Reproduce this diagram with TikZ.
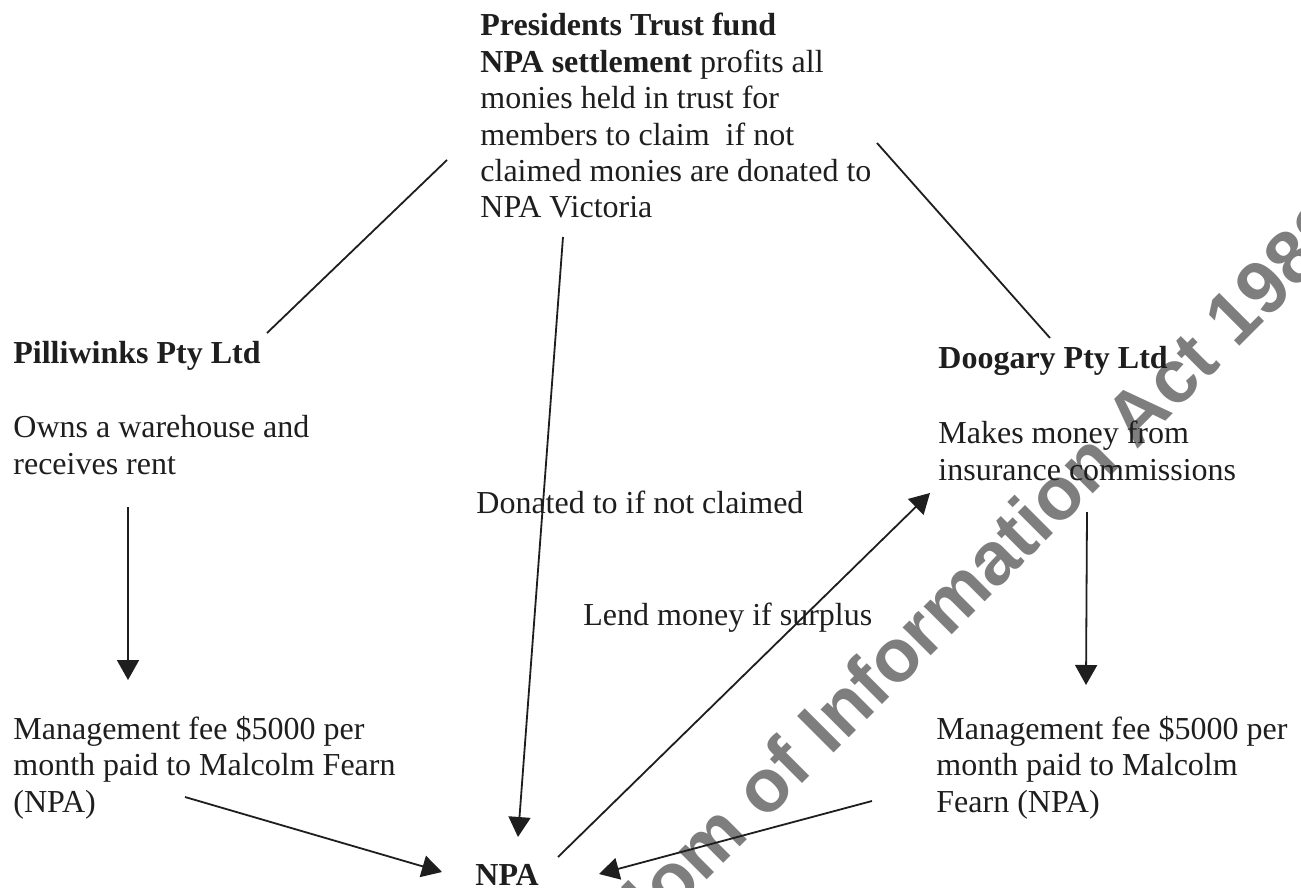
\documentclass[tikz,border=0pt]{standalone}
\usepackage{fontspec}
\setmainfont{Liberation Serif}
\newfontfamily\wmfont{Liberation Sans}
\usetikzlibrary{arrows.meta}
\definecolor{ink}{HTML}{1E1E1E}
\definecolor{wm}{HTML}{7E7E7E}
\begin{document}
\begin{tikzpicture}[x=0.5pt,y=-0.5pt,
  txt/.style={inner sep=0pt, anchor=north west, align=left, font=\fontsize{16}{18.2}\selectfont, text=ink},
  conn/.style={draw=ink, line width=0.9pt},
  arr/.style={conn, -{Triangle[length=10pt,width=11pt]}},
  wmstyle/.style={rotate=45, text=wm, inner sep=0pt, font=\wmfont\bfseries\fontsize{37.5}{40}\selectfont}]
\useasboundingbox[fill=white] (0,0) rectangle (1301,888);
\begin{scope}
\clip (0,0) rectangle (1301,888);
\node[wmstyle] (wmark) at (922,627) {Freedom of Information Act 1982};
\end{scope}
% text blocks
\node[txt] (trust) at (480,13) {\textbf{Presidents Trust fund}\\\textbf{NPA settlement} profits all\\monies held in trust for\\members to claim\ \ if not\\claimed monies are donated to\\NPA Victoria};
\node[txt] (pil) at (13,341) {\textbf{Pilliwinks Pty Ltd}};
\node[txt] (pildesc) at (13,415) {Owns a warehouse and\\receives rent};
\node[txt] (doo) at (938,346) {\textbf{Doogary Pty Ltd}};
\node[txt] (doodesc) at (938,421) {Makes money from\\insurance commissions};
\node[txt] (mgl) at (13,716) {Management fee \$5000 per\\month paid to Malcolm Fearn\\(NPA)};
\node[txt] (mgr) at (936,716) {Management fee \$5000 per\\month paid to Malcolm\\Fearn (NPA)};
\node[txt] (don) at (476,491) {Donated to if not claimed};
\node[txt] (lend) at (583,603) {Lend money if surplus};
\node[txt, font=\bfseries\fontsize{16}{18}\selectfont] (npa) at (475,864) {NPA};
% connector ends
\coordinate (t1) at (447,160); \coordinate (p1) at (267,333);
\coordinate (t2) at (877,143); \coordinate (d1) at (1050,338);
\coordinate (t3) at (563,237); \coordinate (n1) at (518,837);
\coordinate (p2) at (128,507); \coordinate (m1) at (128,680);
\coordinate (d2) at (1087,512); \coordinate (m2) at (1086,685);
\coordinate (m3) at (185,797); \coordinate (n2) at (442,872);
\coordinate (m4) at (872,801); \coordinate (n3) at (599,874);
\coordinate (n4) at (558,857); \coordinate (d3) at (930,493);
% connectors
\draw[conn] (t1) -- (p1);
\draw[conn] (t2) -- (d1);
\draw[arr] (t3) -- (n1);
\draw[arr] (p2) -- (m1);
\draw[arr] (d2) -- (m2);
\draw[arr] (m3) -- (n2);
\draw[arr] (m4) -- (n3);
\draw[arr] (n4) -- (d3);
\end{tikzpicture}
\end{document}
